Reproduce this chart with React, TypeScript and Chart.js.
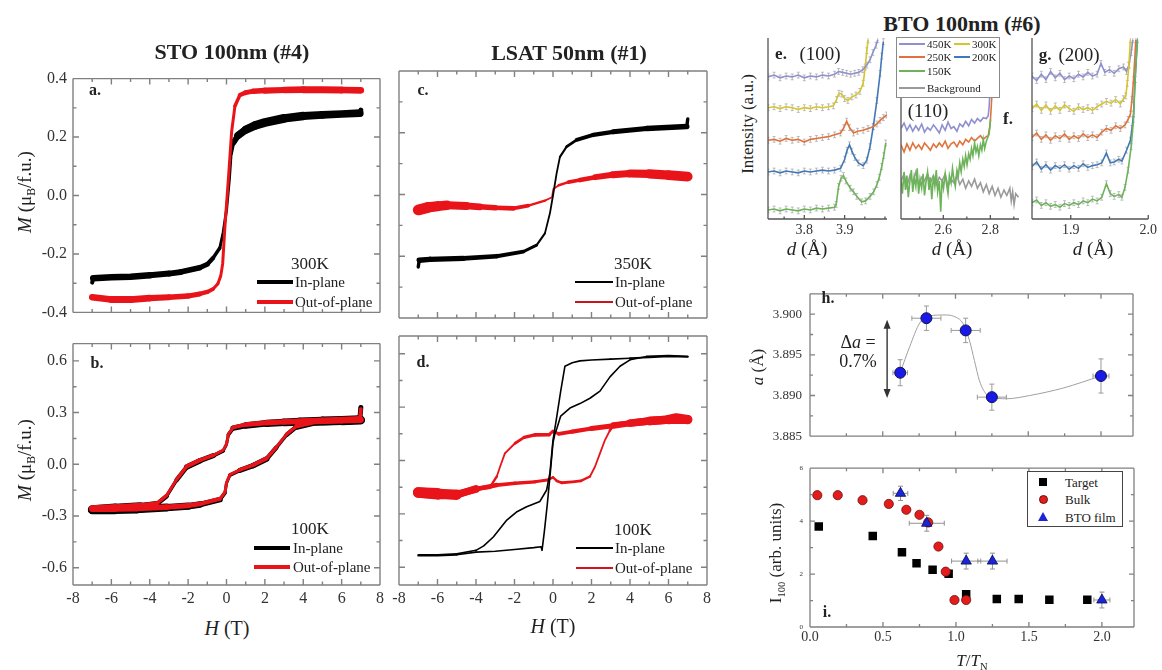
import React, { useEffect, useRef } from "react";
import { Chart, registerables } from "chart.js";

Chart.register(...registerables);

const SERIF = '"Liberation Serif", "Times New Roman", Times, serif';

/* ---------------- tick labels ---------------- */
const hysXTicks = [-8, -6, -4, -2, 0, 2, 4, 6, 8];
const aYTicks = [-0.4, -0.2, 0, 0.2, 0.4];
const bYTicks = [-0.6, -0.3, 0, 0.3, 0.6];
const eXTicks = [3.8, 3.9];
const fXTicks = [2.6, 2.8];
const gXTicks = [1.9, 2.0];
const hYTicks = [3.885, 3.89, 3.895, 3.9];
const iXTicks = [0, 0.5, 1, 1.5, 2];
const iYTicks = [0, 2, 4, 6];

/* ---------------- hysteresis data: [H (T), M (muB/f.u.), noise half-spread] ---------------- */
const aInPlane = [
  [-7, -0.298, 0.003], [-6.95, -0.283, 0.011], [-6, -0.28, 0.011], [-5, -0.278, 0.011], [-4, -0.273, 0.011],
  [-3, -0.267, 0.01], [-2.4, -0.262, 0.01], [-1.4, -0.247, 0.009], [-1, -0.235, 0.008], [-0.7, -0.214, 0.007],
  [-0.35, -0.18, 0.005], [-0.17, -0.126, 0.004], [0, -0.05, 0.004], [0.15, 0.058, 0.004], [0.24, 0.144, 0.005],
  [0.35, 0.18, 0.008], [0.6, 0.205, 0.012], [1, 0.225, 0.014], [1.5, 0.24, 0.015], [2, 0.25, 0.015],
  [3, 0.264, 0.015], [4, 0.272, 0.014], [5, 0.276, 0.013], [6, 0.279, 0.013], [6.95, 0.282, 0.013], [7, 0.292, 0.004],
];
const aOutOfPlane = [
  [-7, -0.348, 0.01], [-6, -0.356, 0.012], [-5, -0.356, 0.012], [-4, -0.351, 0.011], [-3, -0.348, 0.01],
  [-2, -0.344, 0.009], [-1.4, -0.337, 0.008], [-1, -0.33, 0.007], [-0.7, -0.32, 0.006], [-0.45, -0.302, 0.005],
  [-0.3, -0.275, 0.004], [-0.2, -0.234, 0.004], [-0.08, -0.104, 0.004], [0.1, 0.058, 0.004], [0.27, 0.22, 0.004],
  [0.44, 0.306, 0.005], [0.7, 0.344, 0.007], [1, 0.352, 0.008], [1.4, 0.357, 0.009], [2, 0.359, 0.01],
  [3, 0.361, 0.011], [4, 0.362, 0.012], [5, 0.362, 0.012], [6, 0.361, 0.012], [7, 0.36, 0.011],
];

const bInPlaneDown = [
  [7, 0.33, 0.004], [6.95, 0.26, 0.025], [6, 0.255, 0.025], [5, 0.252, 0.025], [3.83, 0.247, 0.024],
  [3, 0.243, 0.022], [2.09, 0.238, 0.02], [1, 0.225, 0.018], [0.35, 0.21, 0.014], [0.1, 0.172, 0.008],
  [0, 0.115, 0.006], [-0.17, 0.078, 0.008], [-0.69, 0.05, 0.014], [-1.38, 0.021, 0.016], [-2.07, -0.016, 0.016],
  [-2.6, -0.091, 0.01], [-3.12, -0.185, 0.01], [-3.64, -0.232, 0.016], [-4.5, -0.243, 0.022], [-5.8, -0.252, 0.025],
  [-7, -0.262, 0.025],
];
const bInPlaneUp = [
  [-7, -0.265, 0.025], [-5.8, -0.264, 0.025], [-4.7, -0.261, 0.024], [-3.12, -0.251, 0.022], [-2, -0.243, 0.02],
  [-1.38, -0.233, 0.018], [-0.34, -0.205, 0.014], [-0.08, -0.166, 0.008], [0, -0.11, 0.006], [0.18, -0.063, 0.008],
  [0.7, -0.035, 0.014], [1.4, -0.007, 0.016], [2.09, 0.031, 0.016], [2.6, 0.097, 0.01], [3.14, 0.172, 0.01],
  [3.66, 0.219, 0.016], [4.7, 0.247, 0.022], [6, 0.252, 0.025], [7, 0.256, 0.025],
];
const bOutOfPlaneDown = [
  [7, 0.32, 0.004], [6.95, 0.262, 0.018], [6, 0.258, 0.018], [5, 0.254, 0.018], [3.83, 0.249, 0.017],
  [3, 0.246, 0.016], [2.09, 0.241, 0.015], [1, 0.23, 0.013], [0.35, 0.214, 0.01], [0.1, 0.175, 0.006],
  [0, 0.118, 0.005], [-0.17, 0.082, 0.006], [-0.69, 0.052, 0.01], [-1.38, 0.024, 0.012], [-2.07, -0.012, 0.012],
  [-2.6, -0.088, 0.008], [-3.12, -0.18, 0.008], [-3.64, -0.228, 0.012], [-4.5, -0.24, 0.016], [-5.8, -0.248, 0.018],
  [-7, -0.256, 0.018],
];
const bOutOfPlaneUp = [
  [-7, -0.258, 0.018], [-5.8, -0.258, 0.018], [-4.7, -0.256, 0.017], [-3.12, -0.248, 0.016], [-2, -0.24, 0.015],
  [-1.38, -0.23, 0.013], [-0.34, -0.2, 0.01], [-0.08, -0.162, 0.006], [0, -0.106, 0.005], [0.18, -0.06, 0.006],
  [0.7, -0.032, 0.01], [1.4, -0.004, 0.012], [2.09, 0.034, 0.012], [2.6, 0.1, 0.008], [3.14, 0.175, 0.008],
  [3.66, 0.222, 0.012], [4.7, 0.249, 0.016], [6, 0.254, 0.018], [7, 0.258, 0.018],
];

const cInPlane = [
  [-7, -0.235, 0.004], [-6.95, -0.213, 0.016], [-6.4, -0.21, 0.016], [-4.66, -0.207, 0.015], [-2.92, -0.2, 0.013],
  [-1.54, -0.185, 0.01], [-0.85, -0.164, 0.007], [-0.42, -0.126, 0.005], [-0.16, -0.061, 0.004], [0.02, 0.004, 0.004],
  [0.19, 0.069, 0.004], [0.36, 0.122, 0.005], [0.71, 0.155, 0.007], [1.23, 0.177, 0.01], [2.09, 0.193, 0.012],
  [3.13, 0.203, 0.014], [4.87, 0.214, 0.016], [6.95, 0.22, 0.016], [7, 0.245, 0.004],
];
const cOutOfPlane = [
  [-7, -0.05, 0.04], [-6.5, -0.042, 0.038], [-6, -0.038, 0.036], [-5.5, -0.035, 0.032], [-4.5, -0.037, 0.026],
  [-3.8, -0.04, 0.022], [-3, -0.043, 0.018], [-2.06, -0.045, 0.015], [-1.28, -0.036, 0.011], [-0.42, -0.02, 0.007],
  [-0.05, -0.009, 0.004], [0.02, 0.018, 0.004], [0.3, 0.03, 0.007], [0.8, 0.04, 0.011], [1.4, 0.047, 0.015],
  [2.2, 0.056, 0.019], [3.1, 0.064, 0.023], [4, 0.068, 0.027], [5, 0.067, 0.032], [6, 0.063, 0.035], [7, 0.058, 0.035],
];

const dInPlaneDown = [
  [7, 0.583, 0.005], [6, 0.585, 0.005], [5, 0.58, 0.005], [4, 0.575, 0.005], [3, 0.57, 0.004], [2, 0.565, 0.004],
  [1.4, 0.56, 0.004], [1, 0.55, 0.004], [0.62, 0.53, 0.003], [0.4, 0.39, 0.003], [0.2, 0.25, 0.003], [0, 0.115, 0.003],
  [-0.16, -0.07, 0.003], [-0.33, -0.166, 0.003], [-0.68, -0.23, 0.003], [-1.37, -0.26, 0.003], [-1.9, -0.29, 0.003],
  [-2.4, -0.335, 0.003], [-3.1, -0.43, 0.003], [-3.6, -0.48, 0.004], [-4, -0.505, 0.004], [-5, -0.525, 0.005],
  [-6, -0.53, 0.005], [-7, -0.53, 0.005],
];
const dInPlaneUp = [
  [-7, -0.535, 0.005], [-6, -0.535, 0.005], [-5, -0.53, 0.005], [-4, -0.515, 0.004], [-3, -0.51, 0.004],
  [-2, -0.5, 0.004], [-1, -0.49, 0.003], [-0.62, -0.485, 0.003], [-0.57, -0.505, 0.003], [-0.45, -0.4, 0.003],
  [-0.3, -0.25, 0.003], [-0.15, -0.08, 0.003], [0, 0.1, 0.003], [0.1, 0.15, 0.003], [0.2, 0.18, 0.003],
  [0.4, 0.25, 0.003], [0.88, 0.295, 0.003], [1.4, 0.32, 0.003], [1.92, 0.35, 0.003], [2.44, 0.39, 0.003],
  [2.96, 0.47, 0.003], [3.48, 0.53, 0.004], [4, 0.566, 0.004], [4.87, 0.585, 0.005], [6, 0.59, 0.005], [7, 0.585, 0.005],
];
const dOutOfPlaneDown = [
  [7, 0.23, 0.05], [6.4, 0.24, 0.055], [6, 0.23, 0.05], [5, 0.222, 0.045], [4, 0.21, 0.038], [3.13, 0.195, 0.03],
  [2, 0.18, 0.026], [1, 0.162, 0.022], [0.3, 0.15, 0.02], [0, 0.165, 0.015], [-0.2, 0.145, 0.02], [-0.94, 0.144, 0.02],
  [-1.5, 0.13, 0.018], [-1.97, 0.097, 0.014], [-2.5, 0.04, 0.008], [-2.75, -0.035, 0.006], [-2.92, -0.09, 0.008],
  [-3.27, -0.148, 0.018], [-4, -0.158, 0.03], [-5, -0.194, 0.05], [-6, -0.185, 0.06], [-7, -0.18, 0.06],
];
const dOutOfPlaneUp = [
  [-7, -0.18, 0.06], [-6, -0.19, 0.06], [-5, -0.19, 0.05], [-4, -0.162, 0.03], [-2.92, -0.138, 0.022],
  [-1.97, -0.128, 0.02], [-0.94, -0.12, 0.018], [-0.3, -0.11, 0.016], [0, -0.095, 0.012], [0.2, -0.115, 0.015],
  [0.45, -0.125, 0.016], [1, -0.12, 0.016], [1.45, -0.115, 0.016], [1.92, -0.09, 0.012], [2.18, -0.035, 0.006],
  [2.44, 0.04, 0.006], [2.7, 0.115, 0.006], [2.96, 0.17, 0.01], [3.13, 0.2, 0.02], [4, 0.21, 0.038],
  [5, 0.222, 0.045], [6, 0.23, 0.05], [7, 0.23, 0.05],
];

/* ---------------- XRD data: [d (Angstrom), intensity (a.u., as stacked in the figure)] ---------------- */
const e450K = [
  [3.71, 78.5], [3.725, 79.5], [3.74, 78], [3.755, 79], [3.77, 78.5], [3.785, 79.5], [3.8, 78], [3.815, 79],
  [3.83, 78.5], [3.845, 79.5], [3.86, 79], [3.875, 80], [3.885, 81.5], [3.895, 81], [3.905, 80.5], [3.915, 80],
  [3.925, 80.5], [3.935, 81], [3.945, 82.5], [3.955, 85], [3.963, 88], [3.97, 92], [3.978, 96], [3.982, 99],
];
const e300K = [
  [3.71, 61.5], [3.725, 62], [3.74, 61], [3.755, 62], [3.77, 61.5], [3.785, 60.5], [3.8, 61.5], [3.815, 61],
  [3.83, 62], [3.845, 61.5], [3.86, 62], [3.872, 62.5], [3.88, 66], [3.886, 69.5], [3.893, 69], [3.9, 66.5],
  [3.908, 65.5], [3.918, 67.5], [3.928, 68.5], [3.938, 70.5], [3.946, 75], [3.951, 84], [3.955, 93], [3.958, 99],
];
const e250K = [
  [3.71, 43.5], [3.725, 44], [3.74, 43], [3.755, 44.5], [3.77, 43.5], [3.785, 44], [3.8, 42.5], [3.815, 44],
  [3.83, 44.5], [3.845, 45], [3.86, 45.5], [3.875, 46.5], [3.89, 47.5], [3.898, 50.5], [3.905, 54], [3.912, 50.5],
  [3.922, 47.5], [3.932, 48.5], [3.946, 49], [3.958, 50], [3.971, 51], [3.98, 52.5], [3.988, 54.5], [3.996, 56], [4.004, 57.5],
];
const e200K = [
  [3.71, 26], [3.725, 26.5], [3.74, 25.5], [3.755, 26.5], [3.77, 26], [3.785, 25.5], [3.8, 26.5], [3.815, 26],
  [3.83, 26.5], [3.845, 27], [3.86, 26.5], [3.875, 27], [3.89, 28], [3.9, 33], [3.906, 38], [3.912, 41],
  [3.918, 37.5], [3.925, 34], [3.934, 31], [3.946, 29.5], [3.955, 32.5], [3.963, 40], [3.971, 51], [3.98, 65.5],
  [3.988, 80.5], [3.992, 90], [3.996, 98],
];
const e150K = [
  [3.71, 5], [3.725, 5.5], [3.74, 4.5], [3.755, 5.5], [3.77, 5], [3.785, 4.5], [3.8, 5.5], [3.815, 5], [3.83, 6],
  [3.845, 5.5], [3.86, 6], [3.875, 6.5], [3.879, 8], [3.885, 18], [3.891, 22.5], [3.897, 24], [3.903, 21],
  [3.914, 17], [3.922, 15], [3.93, 12.5], [3.942, 9.5], [3.952, 10], [3.963, 12.5], [3.972, 15], [3.98, 19],
  [3.986, 23], [3.992, 29], [3.997, 35], [4.002, 42],
];

const f450K = [
  [2.42, 50], [2.433, 53], [2.445, 49], [2.458, 52], [2.47, 48.5], [2.483, 51.5], [2.495, 49], [2.508, 52.5],
  [2.52, 48], [2.533, 50.5], [2.545, 49], [2.558, 52], [2.57, 50], [2.583, 47.5], [2.595, 52], [2.608, 49],
  [2.62, 53.5], [2.633, 50], [2.645, 51], [2.658, 48.5], [2.67, 52.5], [2.683, 51], [2.695, 54], [2.708, 51.5],
  [2.72, 55], [2.733, 53], [2.745, 55.5], [2.758, 54], [2.77, 56], [2.783, 55.5], [2.791, 57], [2.795, 62],
  [2.799, 72], [2.803, 85],
];
const f250K = [
  [2.42, 41], [2.433, 37], [2.445, 41.5], [2.458, 38], [2.47, 42], [2.483, 39], [2.495, 41], [2.508, 38.5],
  [2.52, 42], [2.533, 40], [2.545, 38], [2.558, 41.5], [2.57, 39.5], [2.583, 42], [2.595, 40], [2.608, 43],
  [2.62, 39], [2.633, 41.5], [2.645, 42.5], [2.658, 40], [2.67, 43], [2.683, 41], [2.695, 44], [2.708, 42.5],
  [2.72, 45], [2.733, 43], [2.745, 44.5], [2.758, 46], [2.77, 44], [2.783, 45.5], [2.791, 46], [2.799, 52],
  [2.804, 62], [2.808, 72],
];
const f150K = [
  [2.42, 22], [2.426, 14], [2.433, 26], [2.439, 16], [2.445, 24], [2.451, 12], [2.458, 21], [2.464, 27],
  [2.47, 15], [2.476, 23], [2.483, 18], [2.489, 28], [2.495, 14], [2.501, 22], [2.508, 17], [2.514, 25],
  [2.52, 13], [2.526, 20], [2.533, 26], [2.539, 16], [2.545, 23], [2.551, 11], [2.558, 24], [2.564, 18],
  [2.57, 27], [2.576, 15], [2.583, 21], [2.589, 4], [2.595, 22], [2.601, 17], [2.608, 25], [2.614, 19],
  [2.62, 14], [2.626, 24], [2.633, 20], [2.639, 28], [2.645, 22], [2.651, 18], [2.658, 27], [2.664, 24],
  [2.67, 31], [2.676, 26], [2.683, 33], [2.689, 29], [2.695, 35], [2.701, 30], [2.708, 36], [2.714, 33],
  [2.72, 39], [2.726, 35], [2.733, 42], [2.739, 37], [2.745, 40], [2.751, 35], [2.758, 41], [2.764, 38],
  [2.77, 44], [2.776, 39], [2.783, 43], [2.789, 45], [2.795, 47], [2.801, 55],
];
const fBackground = [
  [2.42, 21], [2.433, 25], [2.445, 18], [2.458, 24], [2.47, 20], [2.483, 26], [2.495, 19], [2.508, 23],
  [2.52, 21], [2.533, 25], [2.545, 20], [2.558, 24], [2.57, 19], [2.583, 23], [2.595, 21], [2.608, 25],
  [2.62, 18], [2.633, 22], [2.645, 20], [2.658, 24], [2.67, 19], [2.683, 22], [2.695, 17], [2.708, 21],
  [2.72, 18], [2.733, 22], [2.745, 17], [2.758, 20], [2.77, 15], [2.783, 19], [2.795, 14], [2.808, 18],
  [2.82, 13], [2.833, 17], [2.845, 12], [2.858, 16], [2.87, 13], [2.883, 17], [2.889, 10], [2.895, 15],
  [2.901, 8], [2.908, 14], [2.92, 12],
];

const g450K = [
  [1.85, 79], [1.856, 76.5], [1.862, 80], [1.868, 77], [1.874, 81.5], [1.88, 78], [1.886, 80.5], [1.892, 77],
  [1.898, 79], [1.904, 77.5], [1.91, 80], [1.916, 78.5], [1.922, 81], [1.928, 79], [1.934, 80], [1.939, 86],
  [1.944, 81], [1.95, 82.5], [1.956, 80.5], [1.962, 83], [1.968, 84], [1.972, 81.5], [1.975, 85], [1.978, 92], [1.98, 99],
];
const g300K = [
  [1.85, 61], [1.856, 63.5], [1.862, 60], [1.868, 63], [1.874, 59.5], [1.88, 62.5], [1.886, 60], [1.892, 63],
  [1.898, 61], [1.904, 59.5], [1.91, 62], [1.916, 60.5], [1.922, 61.5], [1.928, 60], [1.934, 62], [1.94, 63.5],
  [1.946, 65], [1.952, 64], [1.958, 66], [1.964, 63.5], [1.968, 66.5], [1.971, 68], [1.973, 75], [1.975, 85], [1.977, 99],
];
const g250K = [
  [1.85, 45], [1.856, 47.5], [1.862, 44], [1.868, 46.5], [1.874, 43.5], [1.88, 46], [1.886, 44.5], [1.892, 47],
  [1.898, 44], [1.904, 46], [1.91, 44.5], [1.916, 47], [1.922, 45], [1.928, 46.5], [1.934, 45], [1.94, 48],
  [1.946, 50], [1.952, 49], [1.958, 51.5], [1.964, 50], [1.97, 52], [1.974, 55], [1.977, 58], [1.979, 66],
  [1.981, 77], [1.984, 99],
];
const g200K = [
  [1.85, 29], [1.856, 31.5], [1.862, 27.5], [1.868, 30], [1.874, 27], [1.88, 29.5], [1.886, 28], [1.892, 30],
  [1.898, 27.5], [1.904, 29.5], [1.91, 28], [1.916, 30.5], [1.922, 28.5], [1.928, 29.5], [1.934, 30], [1.94, 31],
  [1.946, 36.5], [1.951, 31], [1.956, 31.5], [1.962, 33], [1.966, 32], [1.972, 38], [1.977, 43.5], [1.979, 50],
  [1.981, 58], [1.983, 77], [1.986, 99],
];
const g150K = [
  [1.85, 9], [1.856, 10.5], [1.862, 7.5], [1.868, 9], [1.874, 7], [1.88, 8], [1.886, 6.5], [1.892, 8.5],
  [1.898, 7.5], [1.904, 9], [1.91, 8], [1.916, 10], [1.922, 9], [1.928, 11], [1.934, 10], [1.94, 12], [1.946, 19.5],
  [1.951, 14], [1.956, 12.5], [1.962, 13.5], [1.966, 12], [1.97, 17.5], [1.974, 27], [1.978, 40], [1.981, 55],
  [1.983, 77], [1.986, 99],
];
const xrdErr = 1.6;

/* ---------------- panel h: lattice parameter ---------------- */
const hT = [0.62, 0.8, 1.07, 1.25, 2.0];
const hA = [3.8928, 3.8995, 3.898, 3.8898, 3.8924];
const hAErr = [0.0016, 0.0015, 0.0015, 0.0016, 0.0021];
const hTErr = [0.05, 0.1, 0.1, 0.1, 0.055];
const hFitT = [0.62, 0.685, 0.754, 0.82, 0.937, 1.005, 1.05, 1.097, 1.13, 1.165, 1.21, 1.25, 1.35, 1.51, 1.736, 2.0];
const hFitA = [3.8928, 3.896, 3.8989, 3.8998, 3.8999, 3.8996, 3.8989, 3.8967, 3.8943, 3.8918, 3.8902, 3.8898, 3.8896, 3.89, 3.8909, 3.8924];
const hArrowT = 0.53;
const hArrowTop = 3.8993;
const hArrowBottom = 3.8897;

/* ---------------- panel i: I100 vs T/TN ---------------- */
const iTargetX = [0.06, 0.43, 0.63, 0.73, 0.84, 0.95, 1.07, 1.28, 1.43, 1.64, 1.9];
const iTargetY = [3.8, 3.44, 2.82, 2.41, 2.16, 2.01, 1.24, 1.06, 1.06, 1.03, 1.03];
const iBulkX = [0.05, 0.19, 0.36, 0.54, 0.66, 0.75, 0.81, 0.88, 0.93, 0.99, 1.07];
const iBulkY = [4.98, 4.98, 4.79, 4.65, 4.43, 4.24, 3.95, 3.04, 2.09, 1.02, 1.02];
const iFilmX = [0.62, 0.8, 1.07, 1.25, 2.0];
const iFilmY = [5.05, 3.92, 2.49, 2.49, 1.02];
const iFilmXErr = [0.05, 0.12, 0.1, 0.1, 0.055];
const iFilmYErr = [0.27, 0.3, 0.3, 0.3, 0.3];

/* ---------------- colours ---------------- */
const C450 = "#8e90cf";
const C300 = "#d6c52c";
const C250 = "#e0733d";
const C200 = "#4378b6";
const C150 = "#6db35a";
const CBG = "#9a9a9a";

/* ---------------- helpers ---------------- */
const steps = (a: number, b: number, st: number) => {
  const out: number[] = [];
  for (let v = a; v <= b + st * 1e-6; v += st) out.push(Math.round(v * 1e6) / 1e6);
  return out;
};

const framePlugin = {
  id: "frame",
  afterDatasetsDraw(chart: any, _a: any, o: any) {
    const { ctx, chartArea } = chart;
    const { left, top, right, bottom } = chartArea;
    const xs = chart.scales.x;
    const ys = chart.scales.y;
    const sides: string = o.sides || "lrtb";
    ctx.save();
    ctx.strokeStyle = o.color || "#777";
    ctx.lineWidth = o.lineWidth || 1.2;
    ctx.beginPath();
    if (sides.includes("l")) { ctx.moveTo(left, top); ctx.lineTo(left, bottom); }
    if (sides.includes("r")) { ctx.moveTo(right, top); ctx.lineTo(right, bottom); }
    if (sides.includes("t")) { ctx.moveTo(left, top); ctx.lineTo(right, top); }
    if (sides.includes("b")) { ctx.moveTo(left, bottom); ctx.lineTo(right, bottom); }
    const tx = (vals: number[], len: number) => {
      for (const v of vals || []) {
        const p = xs.getPixelForValue(v);
        if (p < left - 0.5 || p > right + 0.5) continue;
        ctx.moveTo(p, bottom); ctx.lineTo(p, bottom - len);
        if (o.mirror) { ctx.moveTo(p, top); ctx.lineTo(p, top + len); }
      }
    };
    const ty = (vals: number[], len: number) => {
      for (const v of vals || []) {
        const p = ys.getPixelForValue(v);
        if (p < top - 0.5 || p > bottom + 0.5) continue;
        ctx.moveTo(left, p); ctx.lineTo(left + len, p);
        if (o.mirror) { ctx.moveTo(right, p); ctx.lineTo(right - len, p); }
      }
    };
    tx(o.xMajor, o.majorLen ?? 6);
    tx(o.xMinor, o.minorLen ?? 3.5);
    ty(o.yMajor, o.majorLen ?? 6);
    ty(o.yMinor, o.minorLen ?? 3.5);
    ctx.stroke();
    ctx.restore();
  },
};

const errorBarPlugin = {
  id: "errbars",
  beforeDatasetsDraw(chart: any, _a: any, o: any) {
    const sets = (o && o.sets) || [];
    if (!sets.length) return;
    const { ctx, chartArea } = chart;
    const xs = chart.scales.x;
    const ys = chart.scales.y;
    ctx.save();
    ctx.beginPath();
    ctx.rect(chartArea.left, chartArea.top, chartArea.right - chartArea.left, chartArea.bottom - chartArea.top);
    ctx.clip();
    for (const s of sets) {
      ctx.strokeStyle = s.color;
      ctx.lineWidth = s.width || 1;
      ctx.beginPath();
      const cap = s.cap || 2;
      for (let i = 0; i < s.xs.length; i++) {
        const px = xs.getPixelForValue(s.xs[i]);
        const py = ys.getPixelForValue(s.ys[i]);
        if (s.yErr) {
          const e = s.yErr[i];
          const y1 = ys.getPixelForValue(s.ys[i] + e);
          const y2 = ys.getPixelForValue(s.ys[i] - e);
          ctx.moveTo(px, y1); ctx.lineTo(px, y2);
          ctx.moveTo(px - cap, y1); ctx.lineTo(px + cap, y1);
          ctx.moveTo(px - cap, y2); ctx.lineTo(px + cap, y2);
        }
        if (s.xErr) {
          const e = s.xErr[i];
          const x1 = xs.getPixelForValue(s.xs[i] - e);
          const x2 = xs.getPixelForValue(s.xs[i] + e);
          ctx.moveTo(x1, py); ctx.lineTo(x2, py);
          ctx.moveTo(x1, py - cap); ctx.lineTo(x1, py + cap);
          ctx.moveTo(x2, py - cap); ctx.lineTo(x2, py + cap);
        }
      }
      ctx.stroke();
    }
    ctx.restore();
  },
};

const arrowPlugin = {
  id: "arrow",
  afterDatasetsDraw(chart: any, _a: any, o: any) {
    const { ctx } = chart;
    const xs = chart.scales.x;
    const ys = chart.scales.y;
    const px = xs.getPixelForValue(o.x);
    const y1 = ys.getPixelForValue(o.y1);
    const y2 = ys.getPixelForValue(o.y2);
    ctx.save();
    ctx.strokeStyle = "#333";
    ctx.fillStyle = "#333";
    ctx.lineWidth = 1.4;
    ctx.beginPath();
    ctx.moveTo(px, y1 + 6); ctx.lineTo(px, y2 - 6);
    ctx.stroke();
    ctx.beginPath();
    ctx.moveTo(px, y1); ctx.lineTo(px - 3.5, y1 + 9); ctx.lineTo(px + 3.5, y1 + 9); ctx.closePath();
    ctx.moveTo(px, y2); ctx.lineTo(px - 3.5, y2 - 9); ctx.lineTo(px + 3.5, y2 - 9); ctx.closePath();
    ctx.fill();
    ctx.restore();
  },
};

// line width follows the read noise spread; "density" < 1 thins bands whose noise is sparse
const noiseWidth = (base: number, density: number) => (ctx: any) => {
  const ds = ctx.chart.data.datasets[ctx.datasetIndex];
  const p0 = ds.data[ctx.p0DataIndex];
  const p1 = ds.data[ctx.p1DataIndex];
  const ys = ctx.chart.scales.y;
  const ppu = Math.abs(ys.getPixelForValue(1) - ys.getPixelForValue(0));
  const s = ((p0 && p0.s) || 0) / 2 + ((p1 && p1.s) || 0) / 2;
  return Math.max(base, 2 * s * ppu * density);
};

function axis(kind: "x" | "y", a: any, padSize: number) {
  return {
    type: "linear",
    position: kind === "x" ? "bottom" : "left",
    min: a.min,
    max: a.max,
    afterBuildTicks: (sc: any) => {
      sc.ticks = a.ticks.map((v: number) => ({ value: v }));
    },
    afterFit: (sc: any) => {
      if (kind === "x") sc.height = padSize;
      else sc.width = padSize;
    },
    grid: { display: false, drawTicks: false },
    border: { display: false },
    ticks: {
      display: !!a.show,
      autoSkip: false,
      maxRotation: 0,
      minRotation: 0,
      padding: a.padding ?? 4,
      color: "#333",
      font: { family: SERIF, size: a.size || 14 },
      callback: (v: any) => (a.fmt ? a.fmt(Number(v)) : String(v)),
    },
  };
}

function baseOpts(p: any) {
  return {
    responsive: false,
    animation: false,
    events: [],
    layout: { padding: { left: 0, top: p.pad.t, right: p.pad.r, bottom: 0 }, autoPadding: false },
    plugins: {
      legend: { display: false },
      title: { display: false },
      tooltip: { enabled: false },
      frame: p.frame,
      errbars: p.err || { sets: [] },
      arrow: p.arrow || {},
    },
    scales: { x: axis("x", p.x, p.pad.b), y: axis("y", p.y, p.pad.l) },
  };
}

type Box = { l: number; t: number; r: number; b: number };

function ChartBox({ box, pad, make }: { box: Box; pad: Box; make: () => any }) {
  const ref = useRef<HTMLCanvasElement>(null);
  const w = box.r - box.l + pad.l + pad.r;
  const h = box.b - box.t + pad.t + pad.b;
  useEffect(() => {
    const chart = new Chart(ref.current as HTMLCanvasElement, make());
    return () => chart.destroy();
  }, []);
  return (
    <canvas
      ref={ref}
      width={w}
      height={h}
      style={{ position: "absolute", left: box.l - pad.l, top: box.t - pad.t, width: w, height: h }}
    />
  );
}

function hysConfig(series: any[], yMin: number, yMax: number, yTicks: number[], yMinor: number[], showX: boolean, showY: boolean, pad: Box) {
  return {
    type: "scatter",
    data: {
      datasets: series.map((s) => ({
        data: s.data.map((q: number[]) => ({ x: q[0], y: q[1], s: q[2] })),
        showLine: true,
        pointRadius: 0,
        pointHoverRadius: 0,
        borderColor: s.color,
        backgroundColor: s.color,
        borderWidth: s.base,
        borderCapStyle: "round",
        borderJoinStyle: "round",
        tension: 0,
        order: s.order,
        segment: { borderWidth: noiseWidth(s.base, s.density ?? 1) },
      })),
    },
    options: baseOpts({
      pad,
      x: { min: -8, max: 8, ticks: hysXTicks, show: showX, size: 16, padding: 4, fmt: (v: number) => String(v) },
      y: { min: yMin, max: yMax, ticks: yTicks, show: showY, size: 16, padding: 6, fmt: (v: number) => v.toFixed(1) },
      frame: {
        sides: "lrtb", color: "#808080", lineWidth: 1.4, mirror: true,
        xMajor: hysXTicks, xMinor: steps(-7, 7, 2), yMajor: yTicks, yMinor, majorLen: 6, minorLen: 3.5,
      },
    }),
    plugins: [framePlugin],
  };
}

function xrdConfig(curves: any[], xMin: number, xMax: number, xTicks: number[], xMinor: number[], pad: Box, withErr: boolean) {
  return {
    type: "scatter",
    data: {
      datasets: curves.map((c, k) => ({
        data: c.data.map((q: number[]) => ({ x: q[0], y: q[1] })),
        showLine: true,
        pointRadius: 0,
        borderColor: c.color,
        borderWidth: 1.6,
        tension: 0,
        order: k,
      })),
    },
    options: baseOpts({
      pad,
      x: { min: xMin, max: xMax, ticks: xTicks, show: true, size: 14, padding: 3, fmt: (v: number) => v.toFixed(1) },
      y: { min: 0, max: 100, ticks: [], show: false },
      frame: { sides: "lb", color: "#555", lineWidth: 1.3, mirror: false, xMajor: xTicks, xMinor, majorLen: 4, minorLen: 2.5 },
      err: withErr
        ? {
            sets: curves.map((c) => ({
              xs: c.data.map((q: number[]) => q[0]),
              ys: c.data.map((q: number[]) => q[1]),
              yErr: c.data.map(() => xrdErr),
              color: "rgba(150,150,150,0.75)",
              width: 0.8,
              cap: 1.5,
            })),
          }
        : { sets: [] },
    }),
    plugins: [framePlugin, errorBarPlugin],
  };
}

function hConfig(pad: Box) {
  return {
    type: "scatter",
    data: {
      datasets: [
        {
          data: hT.map((t, i) => ({ x: t, y: hA[i] })),
          pointRadius: 5.5,
          pointBackgroundColor: "#1a1ae8",
          pointBorderColor: "#101050",
          pointBorderWidth: 1,
          showLine: false,
          order: 0,
        },
        {
          data: hFitT.map((t, i) => ({ x: t, y: hFitA[i] })),
          showLine: true,
          pointRadius: 0,
          borderColor: "#a0a0a0",
          borderWidth: 1,
          cubicInterpolationMode: "monotone",
          order: 1,
        },
      ],
    },
    options: baseOpts({
      pad,
      x: { min: 0, max: 2.22, ticks: iXTicks, show: false },
      y: { min: 3.885, max: 3.9025, ticks: hYTicks, show: true, size: 13, padding: 8, fmt: (v: number) => v.toFixed(3) },
      frame: {
        sides: "lrtb", color: "#808080", lineWidth: 1.3, mirror: true,
        xMajor: iXTicks, xMinor: steps(0.25, 2, 0.5), yMajor: hYTicks, yMinor: steps(3.8875, 3.9, 0.005), majorLen: 5, minorLen: 3,
      },
      err: { sets: [{ xs: hT, ys: hA, xErr: hTErr, yErr: hAErr, color: "#9a9a9a", width: 1, cap: 2.5 }] },
      arrow: { x: hArrowT, y1: hArrowTop, y2: hArrowBottom },
    }),
    plugins: [framePlugin, errorBarPlugin, arrowPlugin],
  };
}

function iConfig(pad: Box) {
  return {
    type: "scatter",
    data: {
      datasets: [
        {
          data: iFilmX.map((t, i) => ({ x: t, y: iFilmY[i] })),
          pointStyle: "triangle",
          pointRadius: 6,
          pointBackgroundColor: "#1a26d6",
          pointBorderColor: "#0a0a55",
          pointBorderWidth: 0.8,
          order: 0,
        },
        {
          data: iBulkX.map((t, i) => ({ x: t, y: iBulkY[i] })),
          pointStyle: "circle",
          pointRadius: 4.6,
          pointBackgroundColor: "#e41c1c",
          pointBorderColor: "#6a1010",
          pointBorderWidth: 0.8,
          order: 1,
        },
        {
          data: iTargetX.map((t, i) => ({ x: t, y: iTargetY[i] })),
          pointStyle: "rect",
          pointRadius: 6,
          pointBackgroundColor: "#000",
          pointBorderColor: "#000",
          pointBorderWidth: 0,
          order: 2,
        },
      ],
    },
    options: baseOpts({
      pad,
      x: { min: 0, max: 2.22, ticks: iXTicks, show: true, size: 14, padding: 2, fmt: (v: number) => v.toFixed(1) },
      y: { min: 0, max: 6, ticks: iYTicks, show: true, size: 7, padding: 7, fmt: (v: number) => String(v) },
      frame: {
        sides: "lrtb", color: "#808080", lineWidth: 1.3, mirror: true,
        xMajor: iXTicks, xMinor: steps(0.25, 2, 0.5), yMajor: iYTicks, yMinor: [1, 3, 5], majorLen: 5, minorLen: 3,
      },
      err: { sets: [{ xs: iFilmX, ys: iFilmY, xErr: iFilmXErr, yErr: iFilmYErr, color: "#909090", width: 1, cap: 2.5 }] },
    }),
    plugins: [framePlugin, errorBarPlugin],
  };
}

/* ---------------- DOM text helpers ---------------- */
const Txt = ({ x, y, size, bold, italic, align = "center", rot, children, color = "#222" }: any) => {
  const tx = align === "center" ? "-50%" : align === "right" ? "-100%" : "0";
  return (
    <div
      style={{
        position: "absolute",
        left: x,
        top: y,
        transform: `translate(${tx}, -50%)${rot ? " rotate(-90deg)" : ""}`,
        fontFamily: SERIF,
        fontSize: size,
        fontWeight: bold ? 700 : 400,
        fontStyle: italic ? "italic" : "normal",
        color,
        whiteSpace: "nowrap",
        lineHeight: 1,
      }}
    >
      {children}
    </div>
  );
};
const Sub = ({ children }: any) => (
  <span style={{ fontSize: "0.62em", position: "relative", top: "0.35em" }}>{children}</span>
);
const Seg = ({ x1, x2, y, color, w }: any) => (
  <div style={{ position: "absolute", left: x1, top: y - w / 2, width: x2 - x1, height: w, background: color }} />
);

const MLabel = () => (
  <>
    <i>M</i> (μ<Sub>B</Sub>/f.u.)
  </>
);
const HLabel = () => (
  <>
    <i>H</i> (T)
  </>
);
const DLabel = () => (
  <>
    <i>d</i> (Å)
  </>
);

export default function App() {
  const boxA = { l: 73, t: 71, r: 380, b: 318 };
  const boxB = { l: 73, t: 336, r: 380, b: 585 };
  const boxC = { l: 399, t: 71, r: 707, b: 318 };
  const boxD = { l: 399, t: 336, r: 707, b: 585 };
  const boxE = { l: 768, t: 38, r: 887, b: 219 };
  const boxF = { l: 901, t: 38, r: 1019, b: 219 };
  const boxG = { l: 1032, t: 38, r: 1150, b: 219 };
  const boxH = { l: 810, t: 283, r: 1133, b: 446 };
  const boxI = { l: 810, t: 462, r: 1134, b: 627 };

  return (
    <div style={{ position: "absolute", left: 0, top: 0, width: 1162, height: 670, background: "#fff", overflow: "hidden" }}>
      <ChartBox
        box={boxA}
        pad={{ l: 60, t: 8, r: 8, b: 10 }}
        make={() =>
          hysConfig(
            [
              { data: aOutOfPlane, color: "#e8141a", base: 3, order: 0 },
              { data: aInPlane, color: "#000", base: 3, order: 1 },
            ],
            -0.4, 0.4, aYTicks, steps(-0.3, 0.3, 0.2), false, true, { l: 60, t: 8, r: 8, b: 10 }
          )
        }
      />
      <ChartBox
        box={boxB}
        pad={{ l: 60, t: 8, r: 10, b: 30 }}
        make={() =>
          hysConfig(
            [
              { data: bOutOfPlaneDown, color: "#e8141a", base: 3, order: 0 },
              { data: bOutOfPlaneUp, color: "#e8141a", base: 3, order: 1 },
              { data: bInPlaneDown, color: "#000", base: 3, order: 2 },
              { data: bInPlaneUp, color: "#000", base: 3, order: 3 },
            ],
            -0.7, 0.7, bYTicks, steps(-0.45, 0.45, 0.3), true, true, { l: 60, t: 8, r: 10, b: 30 }
          )
        }
      />
      <ChartBox
        box={boxC}
        pad={{ l: 10, t: 8, r: 10, b: 10 }}
        make={() =>
          hysConfig(
            [
              { data: cInPlane, color: "#000", base: 1.8, order: 0, density: 0.55 },
              { data: cOutOfPlane, color: "#e8141a", base: 1.8, order: 1, density: 0.45 },
            ],
            -0.4, 0.4, aYTicks, steps(-0.3, 0.3, 0.2), false, false, { l: 10, t: 8, r: 10, b: 10 }
          )
        }
      />
      <ChartBox
        box={boxD}
        pad={{ l: 12, t: 8, r: 12, b: 30 }}
        make={() =>
          hysConfig(
            [
              { data: dInPlaneDown, color: "#000", base: 1.6, order: 0 },
              { data: dInPlaneUp, color: "#000", base: 1.6, order: 1 },
              { data: dOutOfPlaneDown, color: "#e8141a", base: 1.8, order: 2, density: 0.5 },
              { data: dOutOfPlaneUp, color: "#e8141a", base: 1.8, order: 3, density: 0.5 },
            ],
            -0.7, 0.7, bYTicks, steps(-0.45, 0.45, 0.3), true, false, { l: 12, t: 8, r: 12, b: 30 }
          )
        }
      />
      <ChartBox
        box={boxE}
        pad={{ l: 4, t: 2, r: 8, b: 25 }}
        make={() =>
          xrdConfig(
            [
              { data: e450K, color: C450 },
              { data: e300K, color: C300 },
              { data: e250K, color: C250 },
              { data: e200K, color: C200 },
              { data: e150K, color: C150 },
            ],
            3.71, 4.005, eXTicks, [3.75, 3.85, 3.95, 4.0], { l: 4, t: 2, r: 8, b: 25 }, true
          )
        }
      />
      <ChartBox
        box={boxF}
        pad={{ l: 4, t: 2, r: 8, b: 25 }}
        make={() =>
          xrdConfig(
            [
              { data: f150K, color: C150 },
              { data: fBackground, color: CBG },
              { data: f450K, color: C450 },
              { data: f250K, color: C250 },
            ],
            2.42, 2.922, fXTicks, [2.5, 2.7, 2.9], { l: 4, t: 2, r: 8, b: 25 }, false
          )
        }
      />
      <ChartBox
        box={boxG}
        pad={{ l: 4, t: 2, r: 10, b: 25 }}
        make={() =>
          xrdConfig(
            [
              { data: g150K, color: C150 },
              { data: g200K, color: C200 },
              { data: g250K, color: C250 },
              { data: g300K, color: C300 },
              { data: g450K, color: C450 },
            ],
            1.85, 2.0, gXTicks, [1.95], { l: 4, t: 2, r: 10, b: 25 }, true
          )
        }
      />
      <ChartBox box={boxH} pad={{ l: 50, t: 5, r: 6, b: 6 }} make={() => hConfig({ l: 50, t: 5, r: 6, b: 6 })} />
      <ChartBox box={boxI} pad={{ l: 20, t: 5, r: 8, b: 25 }} make={() => iConfig({ l: 20, t: 5, r: 8, b: 25 })} />

      {/* titles */}
      <Txt x={232} y={52} size={22} bold>STO 100nm (#4)</Txt>
      <Txt x={569} y={53} size={22} bold>LSAT 50nm (#1)</Txt>
      <Txt x={962} y={24} size={22} bold>BTO 100nm (#6)</Txt>

      {/* hysteresis axis titles */}
      <Txt x={24} y={192} size={19} rot><MLabel /></Txt>
      <Txt x={24} y={460} size={19} rot><MLabel /></Txt>
      <Txt x={227} y={628} size={20}><HLabel /></Txt>
      <Txt x={553} y={626} size={20}><HLabel /></Txt>

      {/* panel letters */}
      <Txt x={95} y={90} size={16} bold>a.</Txt>
      <Txt x={97} y={363} size={16} bold>b.</Txt>
      <Txt x={423} y={90} size={16} bold>c.</Txt>
      <Txt x={423} y={362} size={16} bold>d.</Txt>

      {/* legend a */}
      <Txt x={310} y={263} size={17}>300K</Txt>
      <Seg x1={257} x2={293} y={282} color="#000" w={4} />
      <Txt x={295} y={282} size={15} align="left">In-plane</Txt>
      <Seg x1={257} x2={293} y={302} color="#e8141a" w={4} />
      <Txt x={295} y={302} size={15} align="left">Out-of-plane</Txt>

      {/* legend b */}
      <Txt x={310} y={528} size={17}>100K</Txt>
      <Seg x1={254} x2={290} y={548} color="#000" w={4} />
      <Txt x={293} y={548} size={15} align="left">In-plane</Txt>
      <Seg x1={254} x2={290} y={567} color="#e8141a" w={4} />
      <Txt x={293} y={567} size={15} align="left">Out-of-plane</Txt>

      {/* legend c */}
      <Txt x={633} y={263} size={17}>350K</Txt>
      <Seg x1={575} x2={613} y={282} color="#000" w={2.5} />
      <Txt x={615} y={282} size={15} align="left">In-plane</Txt>
      <Seg x1={575} x2={613} y={302} color="#c8141a" w={2} />
      <Txt x={615} y={302} size={15} align="left">Out-of-plane</Txt>

      {/* legend d */}
      <Txt x={633} y={529} size={17}>100K</Txt>
      <Seg x1={576} x2={613} y={548} color="#000" w={2} />
      <Txt x={615} y={548} size={15} align="left">In-plane</Txt>
      <Seg x1={576} x2={613} y={568} color="#d0141a" w={2} />
      <Txt x={615} y={568} size={15} align="left">Out-of-plane</Txt>

      {/* XRD labels */}
      <Txt x={747} y={124} size={17} rot>Intensity (a.u.)</Txt>
      <Txt x={781} y={53} size={17} bold>e.</Txt>
      <Txt x={820} y={53} size={19}>(100)</Txt>
      <Txt x={928} y={110} size={19}>(110)</Txt>
      <Txt x={1008} y={118} size={17} bold>f.</Txt>
      <Txt x={1045} y={54} size={17} bold>g.</Txt>
      <Txt x={1079} y={54} size={19}>(200)</Txt>
      <Txt x={807} y={248} size={19}><DLabel /></Txt>
      <Txt x={952} y={248} size={19}><DLabel /></Txt>
      <Txt x={1093} y={248} size={19}><DLabel /></Txt>

      {/* XRD legend */}
      <div style={{ position: "absolute", left: 896, top: 37, width: 104, height: 61, background: "#fff", border: "1px solid #8a8a8a", boxSizing: "border-box" }} />
      <Seg x1={899} x2={925} y={44} color={C450} w={1.6} />
      <Txt x={927} y={44} size={11} align="left">450K</Txt>
      <Seg x1={954} x2={970} y={44} color={C300} w={1.6} />
      <Txt x={972} y={44} size={11} align="left">300K</Txt>
      <Seg x1={899} x2={925} y={57} color={C250} w={1.6} />
      <Txt x={927} y={57} size={11} align="left">250K</Txt>
      <Seg x1={954} x2={970} y={57} color={C200} w={1.6} />
      <Txt x={972} y={57} size={11} align="left">200K</Txt>
      <Seg x1={899} x2={925} y={71} color={C150} w={1.6} />
      <Txt x={927} y={71} size={11} align="left">150K</Txt>
      <Seg x1={899} x2={925} y={88} color={CBG} w={1.2} />
      <Txt x={927} y={88} size={11} align="left">Background</Txt>

      {/* panel h labels */}
      <Txt x={828} y={298} size={16} bold>h.</Txt>
      <Txt x={858} y={342} size={18}>Δ<i>a</i> =</Txt>
      <Txt x={858} y={361} size={18}>0.7%</Txt>
      <Txt x={757} y={367} size={17} rot><i>a</i> (Å)</Txt>

      {/* panel i labels */}
      <Txt x={827} y={612} size={16} bold>i.</Txt>
      <Txt x={775} y={553} size={17} rot>I<Sub>100</Sub> (arb. units)</Txt>
      <Txt x={972} y={660} size={17}><i>T</i>/<i>T</i><Sub>N</Sub></Txt>

      {/* legend i */}
      <div style={{ position: "absolute", left: 1027, top: 471, width: 96, height: 56, border: "1px solid #444", boxSizing: "border-box", background: "#fff" }} />
      <div style={{ position: "absolute", left: 1039, top: 478, width: 8, height: 8, background: "#000" }} />
      <Txt x={1065} y={482} size={13} align="left">Target</Txt>
      <div style={{ position: "absolute", left: 1038.5, top: 494.5, width: 9, height: 9, borderRadius: "50%", background: "#e41c1c", border: "0.8px solid #6a1010", boxSizing: "border-box" }} />
      <Txt x={1065} y={499} size={13} align="left">Bulk</Txt>
      <div style={{ position: "absolute", left: 1038, top: 512, width: 0, height: 0, borderLeft: "5px solid transparent", borderRight: "5px solid transparent", borderBottom: "9px solid #1a26d6" }} />
      <Txt x={1065} y={517} size={13} align="left">BTO film</Txt>
    </div>
  );
}
